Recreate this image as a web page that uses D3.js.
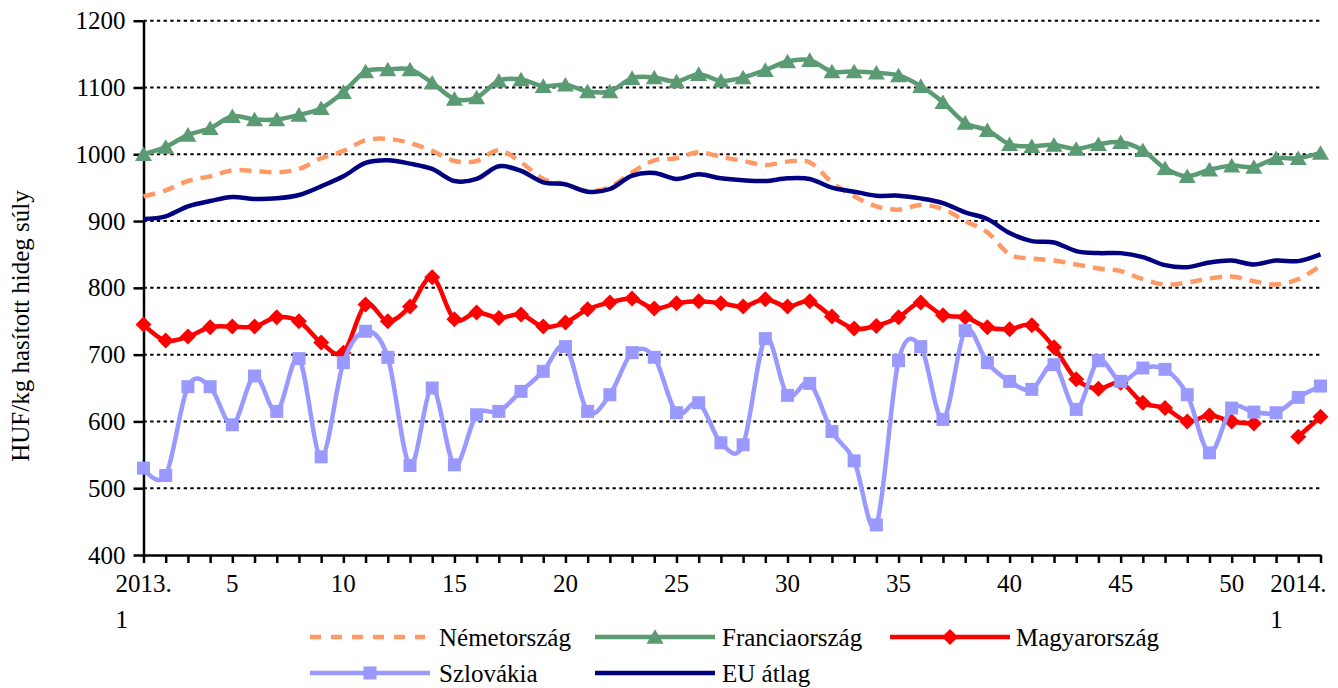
<!DOCTYPE html>
<html><head><meta charset="utf-8">
<script src="https://cdn.jsdelivr.net/npm/d3@7"></script>
<style>body{margin:0;background:#fff} svg{display:block}</style>
</head><body><svg id="c" width="1338" height="688" font-family="'Liberation Serif', 'Times New Roman', serif"></svg>
<script>
const weeks = ["2013. 1","2","3","4","5","6","7","8","9","10","11","12","13","14","15","16","17","18","19","20",
  "21","22","23","24","25","26","27","28","29","30","31","32","33","34","35","36","37","38","39","40",
  "41","42","43","44","45","46","47","48","49","50","51","52","2014. 1","2"];
const shownLabels = ["2013. 1","5","10","15","20","25","30","35","40","45","50","2014. 1"];
const yTicks = [400,500,600,700,800,900,1000,1100,1200];

const nemetorszag = [937,946,960,967,976,975,973,978,994,1005, 1021,1023,1017,1005,990,990,1006,988,963,955,
  945,951,973,991,994,1003,996,990,984,989, 988,958,937,922,917,924,918,900,883,850,
  844,841,835,829,825,813,805,808,814,817, 810,805,813,833];
const franciaorszag = [1000,1011,1029,1039,1057,1052,1052,1059,1069,1093, 1124,1127,1127,1107,1083,1085,1110,1112,1102,1104,
  1094,1094,1114,1115,1109,1120,1110,1115,1126,1139, 1141,1124,1124,1122,1118,1102,1078,1047,1036,1015,
  1012,1014,1008,1015,1018,1006,979,967,977,983, 981,994,994,1002];
const magyarorszag = [745,721,727,741,742,742,756,750,718,703, 775,750,772,816,753,763,755,760,742,748,
  768,778,784,769,777,780,777,772,783,772, 780,757,739,743,756,778,759,756,741,738,
  744,711,663,649,658,628,620,600,609,600, 597,null,577,607];
const szlovakia = [530,519,652,652,595,668,615,694,547,688, 735,696,534,650,535,610,615,645,675,712,
  615,640,703,696,613,628,568,565,724,639, 657,585,541,445,691,712,603,736,688,660,
  648,685,618,691,660,680,678,640,553,620, 614,613,636,653];
const euAtlag = [903,907,922,930,936,933,934,939,952,967, 987,991,986,978,960,963,982,975,958,955,
  944,948,968,972,963,970,964,961,960,964, 963,950,944,938,938,934,927,913,903,882,
  870,868,855,852,852,846,834,831,838,841, 835,841,840,850];

const series = [
  {name:"Németország", values:nemetorszag, color:"#FF9966", dash:"12,8", marker:null},
  {name:"Franciaország", values:franciaorszag, color:"#5B9B73", dash:null, marker:"triangle"},
  {name:"Magyarország", values:magyarorszag, color:"#FF0000", dash:null, marker:"diamond"},
  {name:"Szlovákia", values:szlovakia, color:"#9999FF", dash:null, marker:"square"},
  {name:"EU átlag", values:euAtlag, color:"#000080", dash:null, marker:null}
];

const FONT = "'Liberation Serif', 'Times New Roman', serif";
const svg = d3.select("#c");
const x0 = 143.5, x1 = 1320.5, yTop = 20.7, yBot = 555;
const x = d3.scalePoint().domain(d3.range(weeks.length)).range([x0, x1]);
const y = d3.scaleLinear().domain([400,1200]).range([yBot, yTop]);
const FS = 25;

// gridlines
svg.append("g").selectAll("line").data(yTicks.filter(v => v > 400)).join("line")
  .attr("x1", x0).attr("x2", x1).attr("y1", d => y(d)).attr("y2", d => y(d))
  .attr("stroke", "#000").attr("stroke-width", 2).attr("stroke-dasharray", "3.3,3.4");

// y axis
const ya = svg.append("g").attr("transform", `translate(${x0},0)`)
  .call(d3.axisLeft(y).tickValues(yTicks).tickFormat(d3.format("d")).tickSize(10).tickPadding(8).tickSizeOuter(0));
ya.attr("font-family", FONT).attr("font-size", FS);
ya.select(".domain").attr("stroke", "#000").attr("stroke-width", 2.5);
ya.selectAll(".tick line").attr("stroke-width", 2.5);
ya.selectAll(".tick text").attr("fill", "#000");

// x axis
const xa = svg.append("g").attr("transform", `translate(0,${yBot})`)
  .call(d3.axisBottom(x).tickSize(8).tickSizeOuter(0).tickFormat(""));
xa.select(".domain").attr("stroke", "#000").attr("stroke-width", 2.5);
xa.selectAll(".tick line").attr("stroke-width", 2.5);

// x labels
const lab = svg.append("g").attr("font-size", FS).attr("font-family", FONT).attr("fill", "#000");
weeks.forEach((w, i) => {
  if (!shownLabels.includes(w)) return;
  const parts = w.split(" ");
  const t = lab.append("text").attr("x", x(i)).attr("y", 592).attr("text-anchor", "middle").text(parts[0]);
  if (parts.length > 1) {
    const wdt = t.node().getComputedTextLength();
    lab.append("text").attr("x", x(i) - wdt / 2).attr("y", 628).attr("text-anchor", "start").text(parts[1]);
  }
});

// y title
svg.append("text").attr("transform", "translate(29,326) rotate(-90)")
  .attr("text-anchor", "middle").attr("font-size", FS).attr("font-family", FONT).attr("fill", "#000")
  .text("HUF/kg hasított hideg súly");

const curve = d3.curveCatmullRom.alpha(0);
const line = d3.line().defined(d => d[1] != null).x(d => x(d[0])).y(d => y(d[1])).curve(curve);

function triPath(s){ const h = s*0.8; return `M0,${-h/2 - 1}L${s/2},${h/2}L${-s/2},${h/2}Z`; }
function mark(type){
  if (type === "triangle") return triPath(17);
  if (type === "diamond") { const s = 16; return `M0,${-s/2}L${s/2},0L0,${s/2}L${-s/2},0Z`; }
  if (type === "square") { const s = 13; return `M${-s/2},${-s/2}h${s}v${s}h${-s}Z`; }
}

const plot = svg.append("g");
series.forEach(s => {
  const pts = s.values.map((v, i) => [i, v]);
  plot.append("path").attr("d", line(pts)).attr("fill", "none")
    .attr("stroke", s.color).attr("stroke-width", 4.5)
    .attr("stroke-dasharray", s.dash).attr("stroke-linejoin", "round");
  if (s.marker) {
    plot.append("g").selectAll("path").data(pts.filter(p => p[1] != null)).join("path")
      .attr("transform", p => `translate(${x(p[0])},${y(p[1])})`)
      .attr("d", mark(s.marker)).attr("fill", s.color);
  }
});

// legend
const legendItems = [
  {s: series[0], lx: 310, ly: 637, tx: 439},
  {s: series[1], lx: 595, ly: 637, tx: 722},
  {s: series[2], lx: 890, ly: 637, tx: 1016},
  {s: series[3], lx: 310, ly: 673, tx: 439},
  {s: series[4], lx: 595, ly: 673, tx: 722}
];
const lg = svg.append("g").attr("font-family", FONT);
legendItems.forEach(it => {
  const len = it.s === series[0] ? 115 : 120;
  lg.append("line").attr("x1", it.lx).attr("x2", it.lx + len).attr("y1", it.ly).attr("y2", it.ly)
    .attr("stroke", it.s.color).attr("stroke-width", 4.5).attr("stroke-dasharray", it.s.dash ? "11,10" : null);
  if (it.s.marker) {
    lg.append("path").attr("transform", `translate(${it.lx + len / 2},${it.ly})`)
      .attr("d", mark(it.s.marker)).attr("fill", it.s.color);
  }
  lg.append("text").attr("x", it.tx).attr("y", it.ly + 9).attr("font-size", FS).attr("fill", "#000").text(it.s.name);
});
</script></body></html>
